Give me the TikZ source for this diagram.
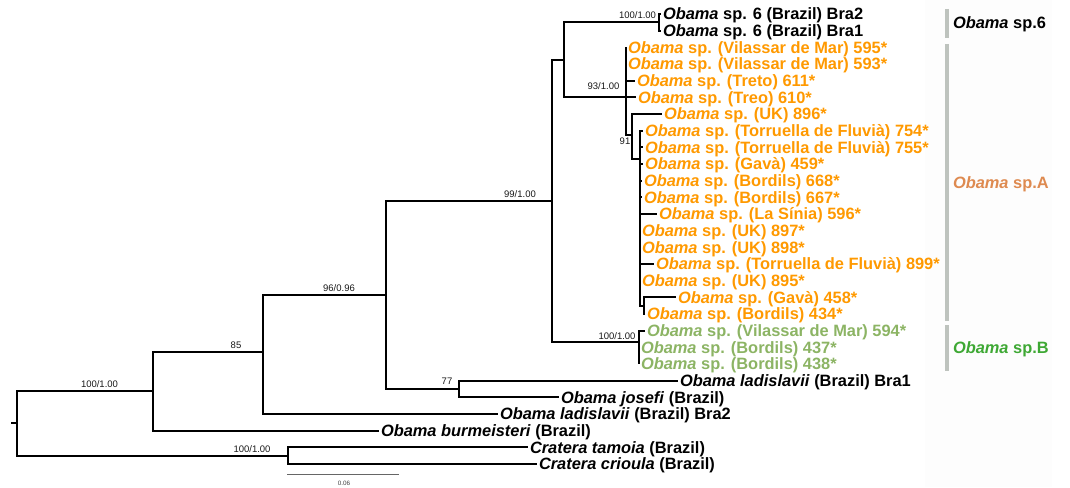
\documentclass[tikz,border=0pt]{standalone}
\usepackage{fontspec}
\setmainfont{Liberation Sans}
\definecolor{orA}{RGB}{255,153,0}
\definecolor{grB}{RGB}{140,180,100}
\definecolor{labA}{RGB}{222,138,80}
\definecolor{labB}{RGB}{62,168,52}
\definecolor{barc}{RGB}{190,195,190}
\definecolor{panel}{RGB}{253,253,253}
\newcommand{\ob}{\textit{Obama}}
\begin{document}
\begin{tikzpicture}[x=1pt,y=-1pt,
  br/.style={line width=2pt, line join=miter},
  leaf/.style={anchor=west, inner xsep=2pt, inner ysep=0pt, outer sep=0pt,
    font=\fontsize{16.4}{18}\selectfont\bfseries, text height=11.7pt, text depth=0pt},
  leafO/.style={leaf, text=orA},
  leafG/.style={leaf, text=grB},
  clade/.style={leaf},
  supp/.style={inner sep=0pt, font=\fontsize{9.5}{10}\selectfont, text=black!90}]
\useasboundingbox (0,0) rectangle (1070,487);
\fill[panel] (925,0) rectangle (1052,487);

% internal nodes
\coordinate (rs) at (11,423);
\coordinate (root) at (17,423);
\coordinate (nA) at (153,391);
\coordinate (nB) at (263,352);
\coordinate (nC) at (386,295);
\coordinate (n77) at (459,389);
\coordinate (nD) at (552,201);
\coordinate (nE) at (564,60);
\coordinate (n6) at (659,22.3);
\coordinate (nO) at (626,97.3);
\coordinate (n91) at (632,135);
\coordinate (nP) at (640,159);
\coordinate (nQ) at (644,305.7);
\coordinate (nG) at (639,342);
\coordinate (nCr) at (288,455.7);

% leaves
\node[leaf] (l1) at (661,14.0) {\ob{} sp. 6 (Brazil) Bra2};
\node[leaf] (l2) at (661,30.7) {\ob{} sp. 6 (Brazil) Bra1};
\node[leafO] (l3) at (626,47.3) {\ob{} sp. (Vilassar de Mar) 595*};
\node[leafO] (l4) at (626,64.0) {\ob{} sp. (Vilassar de Mar) 593*};
\node[leafO] (l5) at (635,80.7) {\ob{} sp. (Treto) 611*};
\node[leafO] (l6) at (636,97.3) {\ob{} sp. (Treo) 610*};
\node[leafO] (l7) at (662,114.0) {\ob{} sp. (UK) 896*};
\node[leafO] (l8) at (643,130.7) {\ob{} sp. (Torruella de Fluvià) 754*};
\node[leafO] (l9) at (643,147.3) {\ob{} sp. (Torruella de Fluvià) 755*};
\node[leafO] (l10) at (643,164.0) {\ob{} sp. (Gavà) 459*};
\node[leafO] (l11) at (642,180.7) {\ob{} sp. (Bordils) 668*};
\node[leafO] (l12) at (642,197.3) {\ob{} sp. (Bordils) 667*};
\node[leafO] (l13) at (657,214.0) {\ob{} sp. (La Sínia) 596*};
\node[leafO] (l14) at (640,230.7) {\ob{} sp. (UK) 897*};
\node[leafO] (l15) at (640,247.3) {\ob{} sp. (UK) 898*};
\node[leafO] (l16) at (654,264.0) {\ob{} sp. (Torruella de Fluvià) 899*};
\node[leafO] (l17) at (640,280.7) {\ob{} sp. (UK) 895*};
\node[leafO] (l18) at (676,297.3) {\ob{} sp. (Gavà) 458*};
\node[leafO] (l19) at (645,314.0) {\ob{} sp. (Bordils) 434*};
\node[leafG] (l20) at (645,330.7) {\ob{} sp. (Vilassar de Mar) 594*};
\node[leafG] (l21) at (639,347.3) {\ob{} sp. (Bordils) 437*};
\node[leafG] (l22) at (639,364.0) {\ob{} sp. (Bordils) 438*};
\node[leaf] (l23) at (678,380.7) {\textit{Obama ladislavii} (Brazil) Bra1};
\node[leaf] (l24) at (559,397.3) {\textit{Obama josefi} (Brazil)};
\node[leaf] (l25) at (498,414.0) {\textit{Obama ladislavii} (Brazil) Bra2};
\node[leaf] (l26) at (379,430.7) {\textit{Obama burmeisteri} (Brazil)};
\node[leaf] (l27) at (528,447.3) {\textit{Cratera tamoia} (Brazil)};
\node[leaf] (l28) at (537,464.0) {\textit{Cratera crioula} (Brazil)};

% branches
\draw[br] (rs) -- (root);
\draw[br] (root) |- (nA);
\draw[br] (root) |- (nCr);
\draw[br] (nA) |- (nB);
\draw[br] (nA) |- (l26.west);
\draw[br] (nB) |- (nC);
\draw[br] (nB) |- (l25.west);
\draw[br] (nC) |- (nD);
\draw[br] (nC) |- (n77);
\draw[br] (n77) |- (l23.west);
\draw[br] (n77) |- (l24.west);
\draw[br] (nD) |- (nE);
\draw[br] (nD) |- (nG);
\draw[br] (nE) |- (n6);
\draw[br] (nE) |- (nO);
\draw[br] (n6) |- (l1.west);
\draw[br] (n6) |- (l2.west);
\draw[br] (nO) |- (l3.west);
\draw[br] (nO) |- (l4.west);
\draw[br] (nO) |- (l5.west);
\draw[br] (nO) |- (l6.west);
\draw[br] (nO) |- (n91);
\draw[br] (n91) |- (l7.west);
\draw[br] (n91) |- (nP);
\foreach \k in {8,...,17} {\draw[br] (nP) |- (l\k.west);}
\draw[br] (nP) |- (nQ);
\draw[br] (nQ) |- (l18.west);
\draw[br] (nQ) |- (l19.west);
\draw[br] (nG) |- (l20.west);
\draw[br] (nG) |- (l21.west);
\draw[br] (nG) |- (l22.west);
\draw[br] (nCr) |- (l27.west);
\draw[br] (nCr) |- (l28.west);

% support values
\node[supp] (s1) at (99.5,384) {100/1.00};
\node[supp] (s2) at (252,449) {100/1.00};
\node[supp] (s3) at (236,345) {85};
\node[supp] (s4) at (339,288) {96/0.96};
\node[supp] (s5) at (447,381) {77};
\node[supp] (s6) at (520,194) {99/1.00};
\node[supp] (s7) at (637.5,15) {100/1.00};
\node[supp] (s8) at (603.5,86) {93/1.00};
\node[supp] (s9) at (625,141.5) {91};
\node[supp] (s10) at (617,336) {100/1.00};

% scale bar
\coordinate (sb1) at (287,474);
\coordinate (sb2) at (399,474);
\draw[black!60, line width=0.9pt] (sb1) -- (sb2);
\node[inner sep=0pt, font=\fontsize{6.3}{7}\selectfont, text=black!75] (sbl) at (344,483) {0.06};

% clade bars and labels
\draw[barc, line width=3.5pt] (947,9) -- (947,38);
\draw[barc, line width=3.5pt] (947,44) -- (947,321);
\draw[barc, line width=3.5pt] (947,325) -- (947,371);
\node[clade] (c6) at (951,23) {\ob{} sp.6};
\node[clade, text=labA] (cA) at (951,183) {\ob{} sp.A};
\node[clade, text=labB] (cB) at (951,348) {\ob{} sp.B};
\end{tikzpicture}
\end{document}
